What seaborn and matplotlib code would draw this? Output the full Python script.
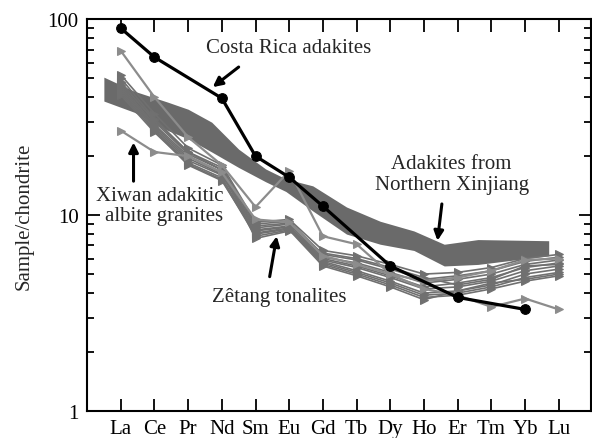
import numpy as np
import pandas as pd
import matplotlib
matplotlib.use('Agg')
import matplotlib.pyplot as plt
import seaborn as sns

# REE elements on the x axis
elements = ['La', 'Ce', 'Pr', 'Nd', 'Sm', 'Eu', 'Gd', 'Tb', 'Dy', 'Ho', 'Er', 'Tm', 'Yb', 'Lu']

# Costa Rica adakites (only some elements measured)
costa_elem = ['La', 'Ce', 'Nd', 'Sm', 'Eu', 'Gd', 'Dy', 'Er', 'Yb']
costa_vals = [90, 64, 39.5, 20.0, 15.6, 11.1, 5.5, 3.8, 3.3]

# Adakites from Northern Xinjiang: field outline (x in element units)
band_x = [-0.5, 0.4, 1.4, 2.0, 2.7, 3.5, 4.3, 4.9, 5.7, 6.7, 7.7, 8.7, 9.6, 10.6, 12.7]
band_top = [50.6, 42.9, 37.7, 34.7, 29.8, 21.7, 17.2, 15.3, 14.1, 11.0, 9.3, 8.3, 7.1, 7.5, 7.4]
band_low = [38.2, 33.5, 27.0, 24.5, 21.0, 17.5, 14.8, 13.2, 10.5, 8.0, 7.1, 6.6, 5.5, 5.6, 6.2]

# Zetang tonalites
tonalites = {
    'T1': [52, 33, 22, 18, 9.2, 9.5, 6.6, 6.2, 5.6, 5.0, 5.1, 5.4, 6.0, 6.3],
    'T2': [50, 31, 21, 17.5, 9.0, 9.3, 6.3, 5.9, 5.3, 4.7, 4.9, 5.2, 5.8, 6.1],
    'T3': [48, 30, 20.5, 17, 8.8, 9.1, 6.1, 5.7, 5.1, 4.5, 4.7, 5.0, 5.6, 5.9],
    'T4': [46, 29, 20, 16.5, 8.6, 9.0, 6.0, 5.5, 4.9, 4.3, 4.5, 4.8, 5.4, 5.7],
    'T5': [45, 28.5, 19.5, 16.2, 8.4, 8.8, 5.9, 5.4, 4.8, 4.2, 4.3, 4.6, 5.2, 5.5],
    'T6': [44, 28, 19, 16, 8.3, 8.7, 5.8, 5.2, 4.6, 4.0, 4.1, 4.4, 5.0, 5.3],
    'T7': [43, 27.5, 18.5, 15.5, 8.1, 8.6, 5.7, 5.1, 4.5, 3.9, 4.0, 4.3, 4.8, 5.1],
    'T8': [42, 27, 18, 15, 8.0, 8.5, 5.6, 5.0, 4.4, 3.8, 3.9, 4.2, 4.6, 4.9],
    'T9': [41, 26.5, 18.2, 15.2, 7.8, 8.4, 5.5, 4.9, 4.3, 3.7, 4.1, 4.5, 4.7, 5.0],
    'T10': [47, 30.5, 21, 17, 7.6, 8.3, 6.4, 6.0, 5.4, 4.8, 4.4, 4.7, 5.5, 5.6],
}

# Xiwan adakitic albite granites
xiwan = {
    'X1': [69, 40, 25, 18, 11, 16.8, 7.8, 7.1, 5.0, 4.2, 3.9, 3.4, 3.75, 3.3],
    'X2': [27, 21, 20, 16.5, 9.5, 9.2, 6.2, 5.6, 5.0, 4.6, 4.8, 5.2, 5.9, 6.0],
}

sns.set_theme(style='ticks')
plt.rcParams['font.family'] = ['Liberation Serif', 'DejaVu Serif']

pos = {e: i for i, e in enumerate(elements)}

ton_df = pd.DataFrame([
    {'sample': s, 'x': pos[e], 'val': v}
    for s, vals in tonalites.items() for e, v in zip(elements, vals)
])
xiw_df = pd.DataFrame([
    {'sample': s, 'x': pos[e], 'val': v}
    for s, vals in xiwan.items() for e, v in zip(elements, vals)
])
costa_df = pd.DataFrame({'x': [pos[e] for e in costa_elem], 'val': costa_vals})

fig = plt.figure(figsize=(5.92, 4.39), dpi=100)
ax = fig.add_axes([0.147, 0.0615, 0.851, 0.8925])

# field of Northern Xinjiang adakites
ax.fill_between(band_x, band_low, band_top, color='#6a6a6a', lw=0, zorder=1)

sns.lineplot(data=ton_df, x='x', y='val', units='sample', estimator=None,
             color='#707070', lw=1.2, marker='>', markersize=6,
             markeredgecolor='#707070', ax=ax, zorder=2)
sns.lineplot(data=xiw_df, x='x', y='val', units='sample', estimator=None,
             color='#8c8c8c', lw=1.6, marker='>', markersize=6,
             markeredgecolor='#8c8c8c', ax=ax, zorder=3)
sns.lineplot(data=costa_df, x='x', y='val', color='black', lw=2.3,
             marker='o', markersize=7, markeredgecolor='black', ax=ax, zorder=4)

ax.set_yscale('log')
ax.set_ylim(1, 100)
ax.set_xlim(-1, 13.95)
ax.set_xticks(range(len(elements)))
ax.set_xticklabels(elements, fontsize=15)
ax.set_yticks([1, 10, 100])
ax.set_yticklabels(['1', '10', '100'], fontsize=15)
ax.set_xlabel('')
ax.set_ylabel('Sample/chondrite', fontsize=15, labelpad=10)

ax.tick_params(which='both', direction='in', top=True, right=True, width=1.3, colors='black')
ax.tick_params(which='major', length=9, pad=6)
ax.tick_params(which='minor', length=5)
ax.xaxis.set_minor_locator(matplotlib.ticker.NullLocator())
for sp in ax.spines.values():
    sp.set_linewidth(1.5)
    sp.set_color('black')

# labels and arrows
arrow = dict(arrowstyle='-|>', lw=2.2, color='black', mutation_scale=14, shrinkA=0, shrinkB=0)
ax.text(4.97, 72, 'Costa Rica adakites', fontsize=15, ha='center', va='center')
ax.annotate('', xy=(2.73, 45), xytext=(3.5, 57), arrowprops=arrow)

ax.text(9.82, 16.2, 'Adakites from\nNorthern Xinjiang', fontsize=15,
        ha='center', va='center', linespacing=1.1)
ax.annotate('', xy=(9.4, 7.4), xytext=(9.53, 11.4), arrowprops=arrow)

ax.text(1.15, 11.2, 'Xiwan adakitic\nalbite granites', fontsize=15,
        ha='center', va='center', multialignment='right', linespacing=1.1)
ax.annotate('', xy=(0.38, 23.5), xytext=(0.38, 14.9), arrowprops=arrow)

ax.text(4.7, 3.86, 'Zêtang tonalites', fontsize=15, ha='center', va='center')
ax.annotate('', xy=(4.63, 7.8), xytext=(4.42, 4.85), arrowprops=arrow)

fig.savefig('out.png', dpi=100)
